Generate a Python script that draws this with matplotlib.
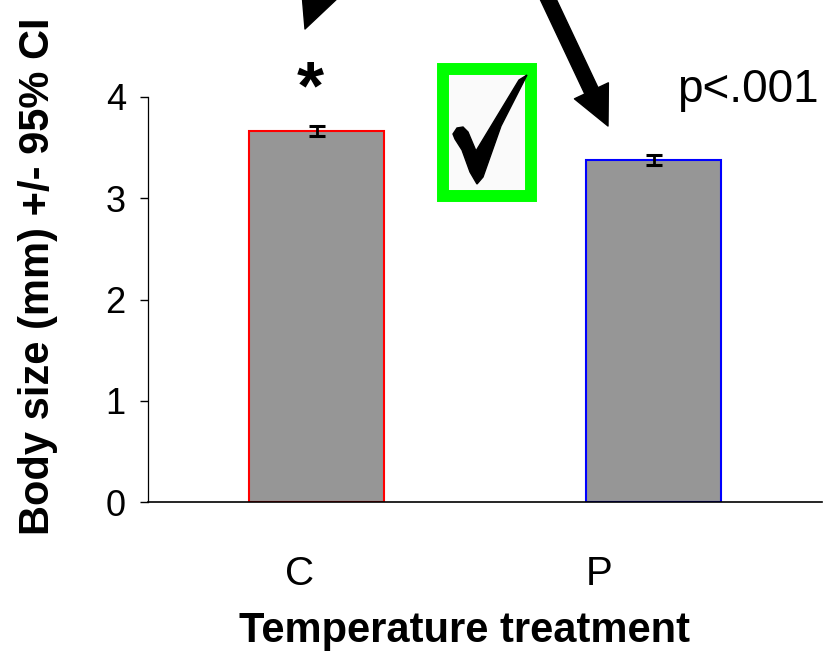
import numpy as np
import matplotlib
matplotlib.use('Agg')
import matplotlib.pyplot as plt
from matplotlib.patches import Rectangle, Polygon

# ----------------------------------------------------------------------------------------------------------------------
# Data.
# ----------------------------------------------------------------------------------------------------------------------
treatments = ['C', 'P']
body_size = [3.66, 3.38]
ci95 = [0.05, 0.05]
edge_colors = ['#ff0000', '#0000ff']
y_ticks = [0, 1, 2, 3, 4]
p_text = 'p<.001'

plt.rcParams['font.family'] = ['Liberation Sans', 'DejaVu Sans']

W, H = 826, 656
fig = plt.figure(figsize=(W / 100, H / 100), dpi=100)
ax = fig.add_axes([148 / W, 1 - 502 / H, (822 - 148) / W, (502 - 97) / H])

x = np.arange(len(treatments))
ax.bar(x, body_size, width=0.4, color='#969696', edgecolor=edge_colors, linewidth=1.5, zorder=2)
ax.errorbar(x, body_size, yerr=ci95, fmt='none', ecolor='black', elinewidth=2,
            capsize=5.5, capthick=2.2, zorder=3)

ax.set_xlim(-0.5, 1.5)
ax.set_ylim(0, 4)
ax.set_yticks(y_ticks)
# category labels sit a little left of the bars in the original
label_shift = np.array([-0.05, -0.16])
ax.set_xticks(x + label_shift)
ax.set_xticklabels(treatments, fontsize=29)
ax.tick_params(axis='y', labelsize=26)
ax.tick_params(axis='x', length=0, pad=38)
ax.tick_params(axis='y', length=6, width=1, direction='out', pad=10)
ax.spines['top'].set_visible(False)
ax.spines['right'].set_visible(False)
ax.spines['left'].set_linewidth(0.9)
ax.spines['bottom'].set_linewidth(1.2)

ax.set_xlabel('Temperature treatment', fontsize=30, fontweight='bold')
ax.xaxis.set_label_coords(0.47, -0.27)
ax.xaxis.label.set_va('top')
ax.set_ylabel('Body size (mm) +/- 95% CI', fontsize=30, fontweight='bold', va='center')
ax.yaxis.set_label_coords(-0.163, 0.558)

# annotations
fig.text(677 / W, 1 - 102 / H, p_text, fontsize=33, ha='left', va='baseline')
fig.text(310 / W, 1 - 108 / H, '*', fontsize=50, fontweight='bold', ha='center', va='baseline')

# arrows coming in from above the picture
arrow_kw = dict(facecolor='black', edgecolor='black', width=10.5, headwidth=27, headlength=28, shrink=0)
ax.annotate('', xy=(305, H - 29), xycoords='figure pixels', xytext=(362, H + 120),
            textcoords='figure pixels', arrowprops=arrow_kw, annotation_clip=False)
ax.annotate('', xy=(608, H - 126), xycoords='figure pixels', xytext=(525, H + 50),
            textcoords='figure pixels', arrowprops=arrow_kw, annotation_clip=False)

# green box with the tick mark
fig.add_artist(Rectangle((443 / W, 1 - 196 / H), 88 / W, 127 / H, transform=fig.transFigure,
                         facecolor='#fafafa', edgecolor='#00ff00', linewidth=8.6))
check = [(453, 134), (457, 128), (463, 127), (468, 132), (476, 151), (519, 80), (527, 75),
         (501, 126), (483, 177), (477, 184), (470, 172), (462, 150), (455, 139)]
fig.add_artist(Polygon([(px / W, 1 - py / H) for px, py in check], closed=True,
                       transform=fig.transFigure, facecolor='black', edgecolor='black', linewidth=1))

plt.savefig('out.png', dpi=100)
